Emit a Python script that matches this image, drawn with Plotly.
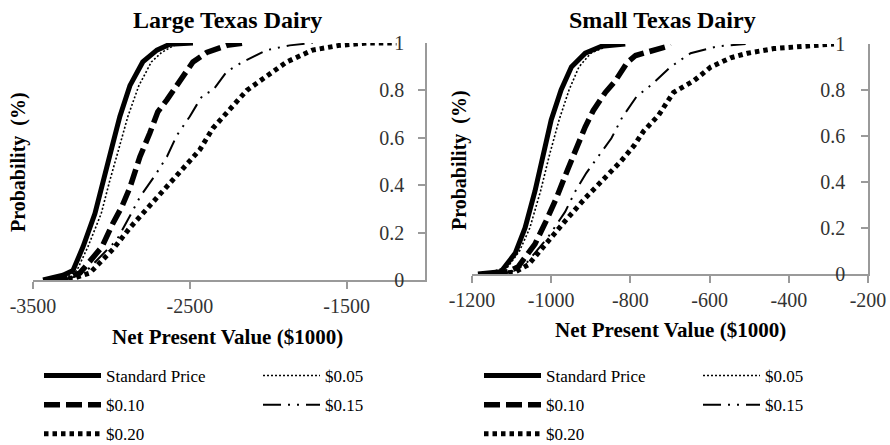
import plotly.graph_objects as go

# ---------------- data ----------------
series_names = ["Standard Price", "$0.05", "$0.10", "$0.15", "$0.20"]

# Large Texas Dairy (NPV $1000, cumulative probability)
large_std_x = [-3436, -3309, -3245, -3181, -3105, -3054, -2997, -2946, -2882, -2800, -2710, -2627, -2480]
large_std_p = [0, 0.02, 0.04, 0.14, 0.28, 0.42, 0.56, 0.69, 0.82, 0.92, 0.97, 0.995, 1.0]
large_05_x = [-3400, -3270, -3220, -3150, -3065, -3010, -2950, -2895, -2825, -2745, -2680, -2600, -2520]
large_05_p = [0, 0.02, 0.04, 0.14, 0.28, 0.42, 0.56, 0.69, 0.82, 0.92, 0.96, 0.99, 1.0]
large_10_x = [-3380, -3280, -3200, -3060, -2990, -2933, -2882, -2818, -2755, -2704, -2646, -2564, -2519, -2480, -2392, -2264, -2150]
large_10_p = [0, 0.01, 0.03, 0.14, 0.24, 0.31, 0.39, 0.52, 0.62, 0.71, 0.76, 0.84, 0.89, 0.92, 0.96, 0.99, 1.0]
large_15_x = [-3350, -3250, -3156, -2965, -2882, -2818, -2723, -2646, -2583, -2532, -2500, -2455, -2417, -2353, -2264, -2162, -2010, -1863, -1717]
large_15_p = [0, 0.01, 0.04, 0.17, 0.27, 0.35, 0.44, 0.52, 0.61, 0.66, 0.69, 0.74, 0.78, 0.80, 0.88, 0.92, 0.97, 0.99, 1.0]
large_20_x = [-3330, -3230, -3137, -2990, -2882, -2774, -2672, -2564, -2436, -2353, -2232, -2137, -2010, -1882, -1717, -1545, -1373, -1182]
large_20_p = [0, 0.01, 0.03, 0.13, 0.22, 0.30, 0.38, 0.46, 0.55, 0.64, 0.73, 0.80, 0.86, 0.92, 0.97, 0.99, 1.0, 1.0]

# Small Texas Dairy
small_std_x = [-1185, -1127, -1091, -1066, -1041, -1020, -1000, -975, -949, -914, -873, -813]
small_std_p = [0, 0.01, 0.09, 0.20, 0.36, 0.52, 0.67, 0.80, 0.90, 0.96, 0.99, 1.0]
small_05_x = [-1170, -1110, -1080, -1054, -1027, -1004, -980, -955, -930, -900, -860, -830]
small_05_p = [0, 0.03, 0.10, 0.20, 0.36, 0.52, 0.67, 0.80, 0.90, 0.96, 0.99, 1.0]
small_10_x = [-1150, -1110, -1084, -1041, -1013, -987, -957, -937, -914, -894, -863, -838, -808, -787, -767, -706, -700]
small_10_p = [0, 0.01, 0.03, 0.13, 0.23, 0.33, 0.46, 0.55, 0.64, 0.71, 0.79, 0.84, 0.92, 0.95, 0.96, 0.99, 1.0]
small_15_x = [-1140, -1100, -1066, -1008, -965, -939, -911, -881, -848, -821, -785, -742, -699, -648, -580, -509]
small_15_p = [0, 0.01, 0.04, 0.16, 0.27, 0.36, 0.44, 0.51, 0.59, 0.68, 0.77, 0.83, 0.90, 0.96, 0.99, 1.0]
small_20_x = [-1130, -1090, -1058, -1015, -965, -914, -863, -824, -790, -767, -729, -691, -640, -597, -547, -504, -438, -370, -286]
small_20_p = [0, 0.01, 0.04, 0.13, 0.23, 0.33, 0.42, 0.49, 0.56, 0.62, 0.69, 0.79, 0.84, 0.90, 0.94, 0.96, 0.98, 0.99, 1.0]

large_ticks = [-3500, -2500, -1500]
large_tick_labels = ["-3500", "-2500", "-1500"]
small_ticks = [-1200, -1000, -800, -600, -400, -200]
small_tick_labels = ["-1200", "-1000", "-800", "-600", "-400", "-200"]
prob_ticks = [0, 0.2, 0.4, 0.6, 0.8, 1]
prob_labels = ["0", "0.2", "0.4", "0.6", "0.8", "1"]

# ---------------- styles ----------------
styles = [
    dict(width=5, dash="solid"),
    dict(width=1.6, dash="2px,2px"),
    dict(width=5.5, dash="16px,6px"),
    dict(width=2, dash="18px,7px,2px,7px,2px,7px"),
    dict(width=5, dash="4.5px,4px"),
]
# legend column per series (first col: Standard, $0.10, $0.20; second: $0.05, $0.15)
col_of = [0, 1, 0, 1, 0]

FONT = "Liberation Serif, Times New Roman, serif"
fig = go.Figure()

large = [(large_std_x, large_std_p), (large_05_x, large_05_p), (large_10_x, large_10_p),
         (large_15_x, large_15_p), (large_20_x, large_20_p)]
small = [(small_std_x, small_std_p), (small_05_x, small_05_p), (small_10_x, small_10_p),
         (small_15_x, small_15_p), (small_20_x, small_20_p)]

for panel, (data, xa, ya) in enumerate([(large, "x", "y"), (small, "x2", "y2")]):
    for i, (xs, ps) in enumerate(data):
        k = panel * 2 + col_of[i]
        leg = "legend" if k == 0 else f"legend{k + 1}"
        fig.add_trace(go.Scatter(
            x=xs, y=ps, mode="lines", name=series_names[i],
            line=dict(color="black", **styles[i]),
            xaxis=xa, yaxis=ya, legend=leg, legendgroup=f"g{panel}{i}",
        ))

W, H = 890, 445
def px(x):
    return x / W
def py(y):
    return 1 - y / H

axis_common = dict(showgrid=False, zeroline=False, showline=True, linecolor="#9a9a9a", linewidth=1.5,
                   tickcolor="#9a9a9a", tickwidth=1.5, ticklen=7, automargin=False,
                   tickfont=dict(family=FONT, size=20, color="#333333"))

fig.update_layout(
    width=W, height=H, autosize=False,
    margin=dict(l=0, r=0, t=0, b=0, pad=0, autoexpand=False),
    paper_bgcolor="white", plot_bgcolor="white",
    font=dict(family=FONT, color="black"),
    xaxis=dict(domain=[px(33), px(425)], range=[-3500, -1000], tickvals=large_ticks,
               ticktext=large_tick_labels, ticks="outside", anchor="y", **axis_common),
    yaxis=dict(domain=[py(280), py(43)], range=[0, 1], tickvals=prob_ticks, ticktext=prob_labels,
               side="right", ticks="inside", ticklabelposition="inside", ticklabelstandoff=15,
               ticklabeloverflow="allow", anchor="x", **axis_common),
    xaxis2=dict(domain=[px(472), px(868)], range=[-1200, -200], tickvals=small_ticks,
                ticktext=small_tick_labels, ticks="outside", anchor="y2",
                ticklabeloverflow="allow", **axis_common),
    yaxis2=dict(domain=[py(274), py(44)], range=[0, 1], tickvals=prob_ticks, ticktext=prob_labels,
                side="right", ticks="inside", ticklabelposition="inside", ticklabelstandoff=17,
                ticklabeloverflow="allow", anchor="x2", **axis_common),
    showlegend=True,
)

leg_common = dict(orientation="v", yanchor="top", xanchor="left", bgcolor="rgba(0,0,0,0)",
                  font=dict(family=FONT, size=17, color="black"), tracegroupgap=4,
                  itemwidth=57, traceorder="grouped")
fig.update_layout(
    legend=dict(x=px(39), y=py(358), **leg_common),
    legend2=dict(x=px(258), y=py(358), **leg_common),
    legend3=dict(x=px(479), y=py(358), **leg_common),
    legend4=dict(x=px(698), y=py(358), **leg_common),
)

annos = [
    dict(text="Large Texas Dairy", x=px(227), y=py(20), size=24),
    dict(text="Small Texas Dairy", x=px(662), y=py(20), size=24),
    dict(text="Net Present Value ($1000)", x=px(228), y=py(337), size=21),
    dict(text="Net Present Value ($1000)", x=px(670), y=py(330), size=21),
]
for a in annos:
    fig.add_annotation(text=a["text"], x=a["x"], y=a["y"], xref="paper", yref="paper",
                       xanchor="center", yanchor="middle", showarrow=False,
                       font=dict(family=FONT, size=a["size"], color="black", weight="bold"))
for xx, yy in [(19, 162), (459, 160)]:
    fig.add_annotation(text="Probability  (%)", x=px(xx), y=py(yy), xref="paper", yref="paper",
                       xanchor="center", yanchor="middle", showarrow=False, textangle=-90,
                       font=dict(family=FONT, size=20, color="black", weight="bold"))

fig.write_html("out.html", config={"displayModeBar": False},
               post_script="document.body.style.margin='0px';document.body.style.overflow='hidden';")
